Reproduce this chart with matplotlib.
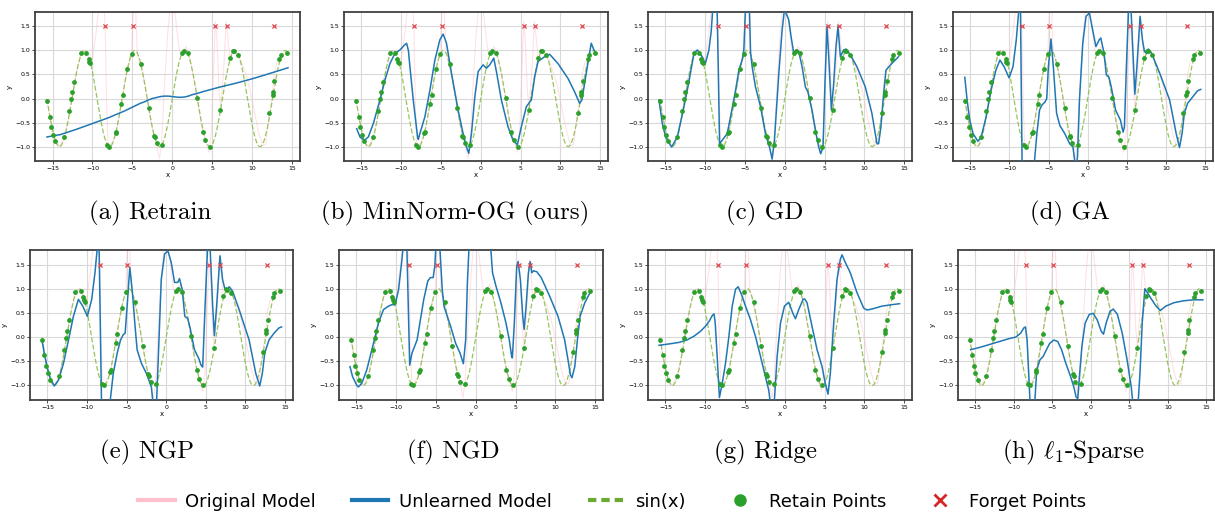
import numpy as np
import matplotlib.pyplot as plt
from matplotlib.lines import Line2D

# Retain / forget points
retain_x = [-15.70, -15.37, -15.16, -14.95, -14.66, -13.58, -12.96, -12.71, -12.55, -12.30,
            -11.47, -10.81, -10.48, -10.40, -10.31, -8.13, -7.92, -7.09, -7.03, -6.40,
            -6.17, -5.63, -5.09, -3.89, -2.93, -2.31, -2.22, -1.97, -1.30, 1.22,
            1.43, 1.94, 3.11, 3.86, 4.15, 4.69, 6.02, 7.18, 7.56, 7.70,
            8.22, 12.17, 12.59, 12.63, 12.80, 13.43, 13.60, 14.35]
retain_y = [-0.05, -0.38, -0.59, -0.75, -0.89, -0.80, -0.26, -0.02, 0.13, 0.35,
            0.94, 0.95, 0.82, 0.77, 0.73, -0.97, -1.00, -0.72, -0.69, -0.12,
            0.07, 0.61, 0.93, 0.72, -0.19, -0.77, -0.81, -0.93, -0.97, 0.95,
            0.99, 0.94, 0.02, -0.69, -0.87, -1.00, -0.23, 0.84, 0.99, 0.98,
            0.91, -0.30, 0.08, 0.14, 0.36, 0.82, 0.91, 0.95]
forget_x = [-8.4, -4.9, 5.4, 6.8, 12.7]
forget_y = [1.5, 1.5, 1.5, 1.5, 1.5]

sin_range = (-15.7, 14.5)

# faint pink curve (model before unlearning)
original_curve = [(-15.7, -0.03), (-15.4, -0.35), (-15.0, -0.68), (-14.6, -0.90), (-14.14, -1.0),
                  (-13.6, -0.83), (-13.0, -0.40), (-12.5, 0.1), (-12.0, 0.55), (-11.5, 0.88),
                  (-11.0, 1.0), (-10.6, 0.90), (-10.3, 0.75), (-10.0, 0.85), (-9.6, 1.3),
                  (-9.2, 1.9), (-8.8, 2.3), (-8.55, 1.9), (-8.4, 1.5), (-8.25, 0.0),
                  (-8.05, -0.95), (-7.8, -0.98), (-7.3, -0.82), (-7.0, -0.68), (-6.5, -0.2),
                  (-6.0, 0.28), (-5.5, 0.7), (-5.1, 0.93), (-4.95, 1.6), (-4.8, 2.2),
                  (-4.6, 1.9), (-4.4, 1.0), (-4.0, 0.7), (-3.5, 0.35), (-3.0, -0.15),
                  (-2.5, -0.65), (-2.0, -0.92), (-1.6, -1.25), (-1.35, -0.95), (-1.0, 0.2),
                  (-0.6, 1.3), (-0.3, 1.85), (0.0, 2.0), (0.3, 1.85), (0.6, 1.4),
                  (0.9, 1.0), (1.2, 0.95), (1.7, 1.08), (2.1, 0.9), (2.6, 0.5),
                  (3.1, 0.03), (3.6, -0.5), (4.1, -0.85), (4.6, -1.12), (4.9, -0.7),
                  (5.15, 0.5), (5.4, 1.6), (5.6, 1.2), (5.85, 0.2), (6.05, -0.2),
                  (6.4, 0.5), (6.75, 1.6), (6.95, 1.3), (7.2, 0.84), (7.6, 0.99),
                  (8.2, 0.92), (8.8, 0.7), (9.5, 0.35), (10.2, -0.2), (10.8, -0.7),
                  (11.3, -0.98), (11.7, -0.95), (12.1, -0.4), (12.5, 0.05), (12.8, 0.55),
                  (13.1, 0.75), (13.5, 0.82), (14.0, 0.93), (14.5, 0.95)]

# blue curves (model after unlearning), one per method
retrain_curve = [(-15.7, -0.80), (-14, -0.75), (-12, -0.64), (-10, -0.52), (-8, -0.40),
                 (-6, -0.26), (-4, -0.10), (-3.5, -0.07), (-3, -0.03), (-2.5, 0.0),
                 (-2, 0.02), (-1.5, 0.04), (-1.0, 0.05), (-0.5, 0.05), (0, 0.04),
                 (0.5, 0.03), (1.0, 0.025), (1.5, 0.03), (2.0, 0.05), (2.5, 0.08),
                 (3.0, 0.10), (4, 0.15), (6, 0.24), (8, 0.32), (10, 0.41), (12, 0.51), (14.5, 0.64)]

minnorm_curve = [(-15.6, -0.63), (-15.19, -0.80), (-14.64, -0.87), (-14.14, -0.80), (-13.51, -0.52),
                 (-12.68, -0.03), (-12.05, 0.38), (-11.42, 0.73), (-10.79, 0.94), (-10.17, 1.01),
                 (-9.54, 1.12), (-9.33, 1.15), (-9.1, 1.0), (-8.91, 0.66), (-8.49, -0.03),
                 (-7.95, -0.80), (-7.85, -0.85), (-7.66, -0.73), (-7.03, -0.38), (-6.40, 0.17),
                 (-5.77, 0.80), (-5.15, 1.22), (-4.73, 1.34), (-4.31, 1.15), (-3.68, 0.52),
                 (-2.85, -0.24), (-2.22, -0.73), (-1.80, -1.01), (-1.51, -1.14), (-1.17, -0.73),
                 (-0.75, 0.03), (-0.33, 0.56), (0.29, 0.70), (0.71, 0.63), (1.13, 0.70),
                 (1.63, 0.84), (1.97, 0.56), (2.59, -0.03), (3.43, -0.59), (4.06, -0.87),
                 (4.6, -0.96), (5.10, -0.59), (5.73, -0.17), (6.36, -0.03), (6.78, 0.45),
                 (7.20, 0.77), (8.03, 0.87), (8.66, 0.92), (9.7, 0.73), (10.96, 0.42),
                 (11.8, 0.14), (12.43, -0.10), (12.72, -0.03), (13.26, 0.52), (13.89, 1.15),
                 (14.23, 1.01), (14.52, 0.94)]

gd_curve = [(-15.82, -0.03), (-15.4, -0.52), (-14.98, -0.80), (-14.23, -1.01), (-13.51, -0.80),
            (-12.68, -0.17), (-12.05, 0.35), (-11.42, 0.94), (-11.0, 1.01), (-10.38, 0.87),
            (-10.0, 0.72), (-9.54, 1.01), (-9.25, 1.4), (-9.0, 2.0), (-8.75, 2.4),
            (-8.5, 1.8), (-8.35, 0.5), (-8.2, -0.94), (-7.87, -0.87), (-7.24, -0.73),
            (-6.82, -0.38), (-6.19, 0.17), (-5.77, 0.59), (-5.36, 0.80), (-5.15, 1.01),
            (-4.94, 1.9), (-4.7, 2.4), (-4.45, 1.9), (-4.3, 0.95), (-4.1, 0.66),
            (-3.68, 0.24), (-3.05, -0.17), (-2.43, -0.73), (-1.92, -1.01), (-1.59, -1.26),
            (-1.3, -0.87), (-0.75, 0.52), (-0.33, 1.43), (-0.04, 1.85), (0.5, 1.64),
            (0.79, 1.29), (1.13, 0.94), (1.55, 1.01), (1.76, 0.98), (2.18, 0.66),
            (2.59, 0.24), (2.9, 0.14), (3.43, -0.24), (3.93, -0.73), (4.27, -1.01),
            (4.52, -1.15), (4.81, -1.01), (5.05, 0.3), (5.31, 1.50), (5.55, 0.8),
            (5.86, -0.24), (6.15, 0.31), (6.45, 1.1), (6.69, 1.50), (6.99, 0.87),
            (7.41, 1.01), (7.7, 1.03), (8.24, 0.91), (9.08, 0.66), (10.13, 0.24),
            (10.96, -0.31), (11.38, -0.73), (11.59, -0.94), (11.8, -0.94), (12.09, -0.59),
            (12.43, 0.10), (12.72, 0.59), (13.47, 0.73), (14.31, 0.87)]

ga_curve = [(-15.69, 0.44), (-15.4, -0.03), (-15.06, -0.45), (-14.64, -0.73), (-14.02, -0.89),
            (-13.6, -0.80), (-12.97, -0.38), (-12.34, 0.17), (-11.72, 0.59), (-11.21, 0.80),
            (-10.67, 0.66), (-10.04, 0.43), (-9.54, 0.66), (-9.12, 1.22), (-8.79, 1.85),
            (-8.6, 2.1), (-8.37, -1.5), (-6.9, -1.5), (-6.49, -0.73), (-6.15, -0.24),
            (-5.86, -0.14), (-5.44, -0.07), (-5.23, 0.0), (-5.02, 0.66), (-4.69, 1.24),
            (-4.39, 0.66), (-3.97, -0.31), (-3.56, -0.56), (-2.93, -0.73), (-2.30, -0.94),
            (-1.88, -1.01), (-1.5, -1.5), (-1.3, -1.2), (-1.05, -0.03), (-0.63, 1.15),
            (-0.21, 1.71), (0.21, 1.78), (0.63, 1.43), (1.05, 1.08), (1.46, 1.22),
            (1.67, 1.26), (2.09, 0.94), (2.38, 0.49), (2.72, 0.44), (3.01, 0.24),
            (3.56, -0.24), (4.18, -0.45), (4.52, -0.70), (4.69, -0.59), (4.94, 0.66),
            (5.23, 1.9), (5.52, 1.9), (5.86, 0.66), (6.02, 0.09), (6.28, 0.66),
            (6.69, 1.71), (6.99, 1.22), (7.24, 0.98), (7.53, 0.94), (7.74, 1.03),
            (8.16, 0.94), (9.21, 0.52), (10.46, -0.03), (11.30, -0.73), (11.72, -1.02),
            (12.05, -0.73), (12.34, -0.31), (12.76, -0.10), (13.39, 0.03), (14.02, 0.16),
            (14.44, 0.19)]

ngp_curve = [(-15.69, -0.06), (-15.4, -0.33), (-15.06, -0.61), (-14.64, -0.85), (-14.14, -1.01),
             (-13.6, -0.89), (-12.97, -0.54), (-12.34, -0.06), (-11.72, 0.43), (-11.09, 0.78),
             (-10.54, 0.64), (-9.96, 0.43), (-9.41, 0.78), (-9.0, 1.33), (-8.7, 1.85),
             (-8.5, 2.1), (-8.16, -1.5), (-7.2, -1.5), (-6.69, -0.75), (-6.19, -0.33),
             (-5.77, -0.06), (-5.44, 0.05), (-5.19, 0.08), (-4.94, 0.64), (-4.6, 1.44),
             (-4.27, 0.92), (-3.97, 0.29), (-3.68, -0.26), (-3.14, -0.54), (-2.51, -0.75),
             (-1.88, -1.03), (-1.59, -1.5), (-1.26, -1.5), (-0.92, -0.06), (-0.63, 1.19),
             (-0.21, 1.72), (0.21, 1.78), (0.63, 1.54), (1.05, 1.13), (1.46, 1.13),
             (1.67, 1.21), (2.01, 0.99), (2.34, 0.43), (2.72, 0.38), (3.01, 0.19),
             (3.56, -0.26), (4.1, -0.44), (4.39, -0.58), (4.6, -0.62), (4.9, 0.64),
             (5.23, 1.9), (5.52, 1.9), (5.86, 0.64), (6.07, 0.03), (6.36, 0.64),
             (6.78, 1.68), (7.11, 1.19), (7.41, 0.99), (7.74, 0.99), (7.95, 1.04),
             (8.37, 0.95), (9.2, 0.57), (10.46, -0.06), (11.3, -0.75), (11.8, -1.01),
             (12.13, -0.75), (12.43, -0.33), (12.97, -0.06), (13.6, 0.08), (14.23, 0.19),
             (14.56, 0.21)]

ngd_curve = [(-15.82, -0.61), (-15.49, -0.82), (-14.98, -0.99), (-14.77, -1.03), (-14.35, -0.96),
             (-13.71, -0.68), (-12.87, -0.13), (-12.24, 0.29), (-11.6, 0.57), (-10.97, 0.64),
             (-10.55, 0.67), (-10.13, 0.67), (-9.7, 0.99), (-9.28, 1.61), (-9.0, 2.1),
             (-8.7, 2.1), (-8.31, -0.58), (-8.02, -0.33), (-7.38, -0.06), (-6.96, 0.36),
             (-6.54, 0.78), (-6.03, 1.16), (-5.7, 1.23), (-5.36, 1.23), (-5.15, 1.47),
             (-4.98, 2.0), (-4.6, 2.1), (-4.22, 0.99), (-4.0, 0.64), (-3.16, 0.22),
             (-2.53, -0.13), (-1.98, -0.33), (-1.56, -0.55), (-1.27, -0.06), (-1.05, 1.13),
             (-0.84, 1.9), (-0.5, 2.3), (1.5, 2.3), (1.9, 1.8), (2.11, 1.33),
             (2.53, 1.06), (3.16, 0.71), (3.8, 0.29), (4.22, -0.06), (4.51, -0.40),
             (4.6, -0.43), (4.85, 0.29), (5.15, 1.47), (5.32, 1.56), (5.61, 1.19),
             (5.91, 0.43), (6.08, 0.16), (6.33, 0.64), (6.62, 1.33), (6.84, 1.56),
             (7.05, 1.33), (7.26, 1.37), (7.68, 1.35), (8.23, 1.23), (9.28, 0.85),
             (10.34, 0.43), (11.18, -0.06), (11.6, -0.47), (11.9, -0.78), (12.1, -0.84),
             (12.45, -0.61), (12.78, -0.06), (13.12, 0.43), (13.71, 0.71), (14.47, 0.95)]

ridge_curve = [(-15.82, -0.17), (-14.5, -0.14), (-13.3, -0.11), (-12.3, -0.06), (-11.4, 0.02),
               (-10.6, 0.12), (-10.0, 0.22), (-9.5, 0.33), (-9.1, 0.45), (-8.9, 0.48),
               (-8.75, 0.30), (-8.5, -0.40), (-8.22, -1.25), (-7.87, -0.96), (-7.45, -0.54),
               (-7.03, 0.01), (-6.61, 0.64), (-6.19, 0.99), (-5.86, 1.04), (-5.44, 0.88),
               (-4.94, 0.64), (-4.31, 0.36), (-3.68, 0.01), (-3.05, -0.40), (-2.43, -0.82),
               (-2.01, -1.10), (-1.72, -1.5), (-1.38, -1.5), (-0.96, -0.40), (-0.54, 0.29),
               (-0.04, 0.64), (0.5, 0.72), (1.0, 0.50), (1.34, 0.38), (1.76, 0.57),
               (2.3, 0.78), (2.5, 0.79), (2.8, 0.71), (3.43, 0.22), (4.06, -0.26),
               (4.69, -0.61), (5.1, -0.96), (5.44, -1.18), (5.73, -0.75), (6.15, 0.29),
               (6.57, 1.19), (6.99, 1.61), (7.2, 1.70), (7.62, 1.54), (8.24, 1.33),
               (9.08, 0.92), (9.92, 0.60), (10.33, 0.56), (10.96, 0.58), (12.22, 0.64),
               (13.47, 0.67), (14.44, 0.69)]

sparse_curve = [(-15.56, -0.26), (-14.31, -0.21), (-13.05, -0.15), (-11.8, -0.09), (-10.54, -0.03),
                (-9.71, 0.0), (-9.08, 0.08), (-8.66, 0.19), (-8.45, 0.21), (-8.24, -0.06),
                (-8.03, -0.75), (-7.82, -1.5), (-7.3, -1.5), (-6.99, -0.68), (-6.57, -0.47),
                (-6.15, -0.40), (-5.73, -0.26), (-5.31, -0.13), (-4.77, -0.06), (-4.27, -0.09),
                (-3.77, -0.26), (-3.22, -0.54), (-2.59, -0.82), (-2.18, -1.03), (-1.88, -1.24),
                (-1.67, -1.27), (-1.42, -0.75), (-1.13, -0.19), (-0.71, 0.29), (-0.17, 0.47),
                (0.33, 0.49), (0.84, 0.36), (1.38, 0.12), (1.67, 0.06), (2.01, 0.29),
                (2.51, 0.53), (2.93, 0.58), (3.47, 0.47), (4.1, 0.08), (4.73, -0.47),
                (5.27, -1.03), (5.56, -1.5), (6.1, -1.5), (6.4, -0.75), (6.69, 0.29),
                (7.03, 1.0), (7.36, 0.92), (7.78, 0.81), (8.49, 0.64), (9.04, 0.55),
                (9.75, 0.64), (10.79, 0.71), (12.05, 0.75), (13.31, 0.77), (14.56, 0.77)]

captions = ['(a) Retrain', '(b) MinNorm-OG (ours)', '(c) GD', '(d) GA',
            '(e) NGP', '(f) NGD', '(g) Ridge', r'(h) $\ell_1$-Sparse']
panel_curves = [retrain_curve, minnorm_curve, gd_curve, ga_curve,
                ngp_curve, ngd_curve, ridge_curve, sparse_curve]

# axes boxes in pixels: left, top, right, bottom
boxes = [(35, 12, 300, 161), (344, 12, 608, 161), (648, 12, 912, 161), (953, 12, 1213, 161),
         (30, 250, 293, 400), (339, 250, 603, 400), (648, 250, 912, 400), (958, 250, 1214, 400)]
caption_pos = [(150, 213), (455, 213), (765, 213), (1070, 213),
               (147, 452), (453, 452), (765, 452), (1073, 452)]

W, H = 1215, 512
plt.rcParams['mathtext.fontset'] = 'cm'
fig = plt.figure(figsize=(W / 100, H / 100), dpi=100)

xs = np.linspace(sin_range[0], sin_range[1], 600)
orig = np.array(original_curve)

for box, curve, cap, cpos in zip(boxes, panel_curves, captions, caption_pos):
    l, t, r, b = box
    ax = fig.add_axes([l / W, 1 - b / H, (r - l) / W, (b - t) / H])
    ax.plot(orig[:, 0], orig[:, 1], color='#ffb6c1', lw=0.8, alpha=0.4, zorder=1)
    ax.plot(xs, np.sin(xs), color='#8cbf4a', lw=0.9, ls=(0, (4, 1.8)), alpha=0.9, zorder=2)
    c = np.array(curve)
    ax.plot(c[:, 0], c[:, 1], color='#1f77b4', lw=1.1, zorder=3)
    ax.scatter(retain_x, retain_y, s=12, color='#2ca02c', zorder=4, linewidths=0)
    ax.scatter(forget_x, forget_y, s=9, marker='x', color='#e0474c', linewidths=0.9, zorder=5)

    ax.set_xlim(-17.2, 16.0)
    ax.set_ylim(-1.3, 1.8)
    ax.set_xticks([-15, -10, -5, 0, 5, 10, 15])
    ax.set_yticks([-1.0, -0.5, 0.0, 0.5, 1.0, 1.5])
    ax.tick_params(labelsize=4.5, length=2, width=0.5, pad=1.5)
    ax.grid(True, color='#d9d9d9', lw=0.8)
    ax.set_axisbelow(True)
    ax.set_xlabel('x', fontsize=5, labelpad=1)
    ax.set_ylabel('y', fontsize=5, labelpad=2)
    for sp in ax.spines.values():
        sp.set_color('#404040')
        sp.set_linewidth(1.3)

    fig.text(cpos[0] / W, 1 - cpos[1] / H, cap, ha='center', va='center',
             fontsize=18, family='cmr10')

handles = [Line2D([], [], color='#ffc0cb', lw=3),
           Line2D([], [], color='#1f77b4', lw=3),
           Line2D([], [], color='#6aaa30', lw=3, ls=(0, (2, 1.2))),
           Line2D([], [], color='#2ca02c', ls='none', marker='o', markersize=8),
           Line2D([], [], color='#d62728', ls='none', marker='x', markersize=8, markeredgewidth=2)]
labels = ['Original Model', 'Unlearned Model', 'sin(x)', 'Retain Points', 'Forget Points']
fig.legend(handles, labels, loc='center', bbox_to_anchor=(0.504, 0.02), ncol=5,
           frameon=False, fontsize=13, columnspacing=2.0, handletextpad=0.6)

fig.savefig('out.png', dpi=100)
